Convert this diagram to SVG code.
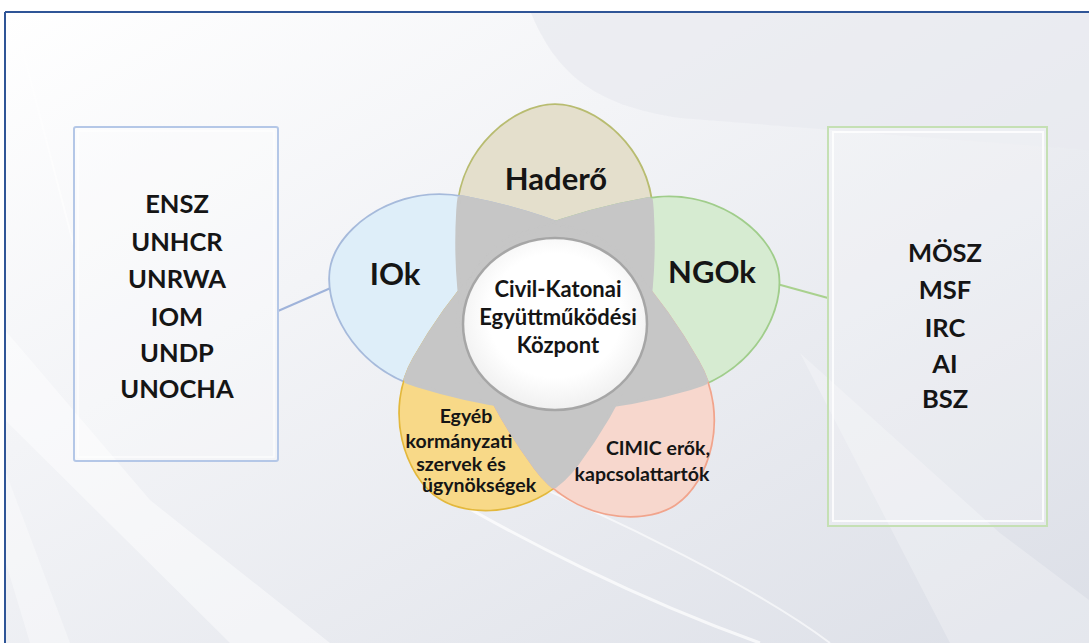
<svg xmlns="http://www.w3.org/2000/svg" xmlns:xlink="http://www.w3.org/1999/xlink" width="1089" height="643" viewBox="0 0 1089 643">
<defs>
<style>
.t{font-family:Lato,"Open Sans","Liberation Sans",sans-serif;font-weight:bold;fill:#151515;text-anchor:middle}
.big{font-size:31px}
.lst{font-size:25.5px}
.ctr{font-size:22px}
.sm{font-size:19.5px}
.pet{paint-order:stroke;stroke-width:3.5;stroke-linejoin:round}
.ov{fill:#c6c6c6;stroke:#c6c6c6;stroke-width:3.5}
</style>
<linearGradient id="bg" x1="0" y1="0" x2="1" y2="1">
<stop offset="0" stop-color="#ffffff"/>
<stop offset="0.35" stop-color="#f3f4f7"/>
<stop offset="1" stop-color="#dcdfe7"/>
</linearGradient>
<radialGradient id="cg" cx="0.5" cy="0.45" r="0.6">
<stop offset="0.6" stop-color="#ffffff"/>
<stop offset="1" stop-color="#ececec"/>
</radialGradient>
<path id="petal" d="M0,-215 C40,-215 94,-172 97,-110 C100,-60 96,-25 92,0 A92 92 0 0 1 -92,0 C-96,-25 -100,-60 -97,-110 C-94,-172 -40,-215 0,-215 Z"/>
<clipPath id="c-top"><use xlink:href="#petal" transform="translate(555,320)"/></clipPath>
<clipPath id="c-iok"><use xlink:href="#petal" transform="translate(555,320) rotate(-76) scale(1,1.07)"/></clipPath>
<clipPath id="c-ngo"><use xlink:href="#petal" transform="translate(555,320) rotate(77) scale(1,1.06)"/></clipPath>
<clipPath id="c-egy"><use xlink:href="#petal" transform="translate(555,320) rotate(-147) scale(1,0.986)"/></clipPath>
<clipPath id="c-cim"><use xlink:href="#petal" transform="translate(555,320) rotate(147) scale(1,1.023)"/></clipPath>
</defs>

<g id="background">
<rect x="0" y="0" width="1089" height="643" fill="#ffffff"/>
<rect x="5" y="12" width="1084" height="631" fill="url(#bg)"/>
<path d="M531,13 C555,70 590,105 680,118 L1089,150 L1089,13 Z" fill="#e8eaef" opacity="0.7"/>
<path d="M5,330 L150,500 L330,643 L230,643 L5,420 Z" fill="#ffffff" opacity="0.45"/>
<path d="M5,470 L70,643 L30,643 L5,560 Z" fill="#ffffff" opacity="0.35"/>
<path d="M420,480 C520,540 640,600 760,643" fill="none" stroke="#ffffff" stroke-width="3" opacity="0.7"/>
<path d="M500,470 C620,520 760,590 830,643" fill="none" stroke="#ffffff" stroke-width="2" opacity="0.6"/>
<path d="M800,353 L1000,533 L1089,600 L1089,643 L950,643 Z" fill="#ffffff" opacity="0.25"/>
<path d="M20,40 L75,250" stroke="#ffffff" stroke-width="2" opacity="0.6"/>
<line x1="5" y1="12" x2="1089" y2="12" stroke="#2f5597" stroke-width="2"/>
<line x1="5" y1="12" x2="5" y2="643" stroke="#2f5597" stroke-width="2"/>
</g>

<g id="connectors">
<line x1="278" y1="311" x2="333" y2="287" stroke="#9fb3da" stroke-width="2"/>
<line x1="777" y1="284" x2="828" y2="298" stroke="#a9d18e" stroke-width="2"/>
</g>

<g id="node-ios-list">
<rect x="74" y="127" width="204" height="334" rx="2" fill="#ffffff" fill-opacity="0.25" stroke="#b4c7e7" stroke-width="2"/>
<rect x="78" y="131" width="196" height="326" fill="none" stroke="#ffffff" stroke-width="1.5" opacity="0.7"/>
<text class="t lst" x="177" y="213">ENSZ</text>
<text class="t lst" x="177" y="251">UNHCR</text>
<text class="t lst" x="177" y="288">UNRWA</text>
<text class="t lst" x="177" y="326">IOM</text>
<text class="t lst" x="177" y="362">UNDP</text>
<text class="t lst" x="177" y="398">UNOCHA</text>
</g>

<g id="node-ngos-list">
<rect x="828" y="127" width="219" height="399" fill="#ffffff" fill-opacity="0.2" stroke="#c5e0b4" stroke-width="2"/>
<rect x="833" y="132" width="210" height="389" fill="none" stroke="#ffffff" stroke-width="2" opacity="0.8"/>
<text class="t lst" x="945" y="262">MÖSZ</text>
<text class="t lst" x="945" y="299">MSF</text>
<text class="t lst" x="945" y="337">IRC</text>
<text class="t lst" x="945" y="373">AI</text>
<text class="t lst" x="945" y="408">BSZ</text>
</g>

<g id="node-hadero">
<use xlink:href="#petal" transform="translate(555,320)" class="pet" fill="#e4dfcc" stroke="#b8bc70"/>
<text class="t big" x="556" y="190">Haderő</text>
</g>
<g id="node-iok">
<use xlink:href="#petal" transform="translate(555,320) rotate(-76) scale(1,1.07)" class="pet" fill="#deeef9" stroke="#a6badb"/>
<text class="t big" x="395" y="285">IOk</text>
</g>
<g id="node-ngok">
<use xlink:href="#petal" transform="translate(555,320) rotate(77) scale(1,1.06)" class="pet" fill="#d6ebd1" stroke="#a0cd8b"/>
<text class="t big" x="712" y="283">NGOk</text>
</g>
<g id="node-egyeb">
<use xlink:href="#petal" transform="translate(555,320) rotate(-147) scale(1,0.986)" class="pet" fill="#f8d988" stroke="#e3b83c"/>
<text class="t sm" x="466" y="423">Egyéb</text>
<text class="t sm" x="459" y="448">kormányzati</text>
<text class="t sm" x="461" y="471">szervek és</text>
<text class="t sm" x="479" y="492">ügynökségek</text>
</g>
<g id="node-cimic">
<use xlink:href="#petal" transform="translate(555,320) rotate(147) scale(1,1.023)" class="pet" fill="#f7d7cd" stroke="#f1a48c"/>
<text class="t sm" x="658" y="455">CIMIC erők,</text>
<text class="t sm" x="642" y="481">kapcsolattartók</text>
</g>

<g id="overlaps">
<g clip-path="url(#c-top)">
<use xlink:href="#petal" class="ov" transform="translate(555,320) rotate(-76) scale(1,1.07)"/>
<use xlink:href="#petal" class="ov" transform="translate(555,320) rotate(77) scale(1,1.06)"/>
<use xlink:href="#petal" class="ov" transform="translate(555,320) rotate(-147) scale(1,0.986)"/>
<use xlink:href="#petal" class="ov" transform="translate(555,320) rotate(147) scale(1,1.023)"/>
</g>
<g clip-path="url(#c-iok)">
<use xlink:href="#petal" class="ov" transform="translate(555,320)"/>
<use xlink:href="#petal" class="ov" transform="translate(555,320) rotate(77) scale(1,1.06)"/>
<use xlink:href="#petal" class="ov" transform="translate(555,320) rotate(-147) scale(1,0.986)"/>
<use xlink:href="#petal" class="ov" transform="translate(555,320) rotate(147) scale(1,1.023)"/>
</g>
<g clip-path="url(#c-ngo)">
<use xlink:href="#petal" class="ov" transform="translate(555,320)"/>
<use xlink:href="#petal" class="ov" transform="translate(555,320) rotate(-76) scale(1,1.07)"/>
<use xlink:href="#petal" class="ov" transform="translate(555,320) rotate(-147) scale(1,0.986)"/>
<use xlink:href="#petal" class="ov" transform="translate(555,320) rotate(147) scale(1,1.023)"/>
</g>
<g clip-path="url(#c-egy)">
<use xlink:href="#petal" class="ov" transform="translate(555,320)"/>
<use xlink:href="#petal" class="ov" transform="translate(555,320) rotate(-76) scale(1,1.07)"/>
<use xlink:href="#petal" class="ov" transform="translate(555,320) rotate(77) scale(1,1.06)"/>
<use xlink:href="#petal" class="ov" transform="translate(555,320) rotate(147) scale(1,1.023)"/>
</g>
<g clip-path="url(#c-cim)">
<use xlink:href="#petal" class="ov" transform="translate(555,320)"/>
<use xlink:href="#petal" class="ov" transform="translate(555,320) rotate(-76) scale(1,1.07)"/>
<use xlink:href="#petal" class="ov" transform="translate(555,320) rotate(77) scale(1,1.06)"/>
<use xlink:href="#petal" class="ov" transform="translate(555,320) rotate(-147) scale(1,0.986)"/>
</g>
</g>

<g id="node-center">
<ellipse cx="555" cy="324" rx="92" ry="86" fill="url(#cg)" stroke="#a6a6a6" stroke-width="2.5"/>
<text class="t ctr" x="558" y="297">Civil-Katonai</text>
<text class="t ctr" x="558" y="325">Együttműködési</text>
<text class="t ctr" x="558" y="353">Központ</text>
</g>
</svg>
